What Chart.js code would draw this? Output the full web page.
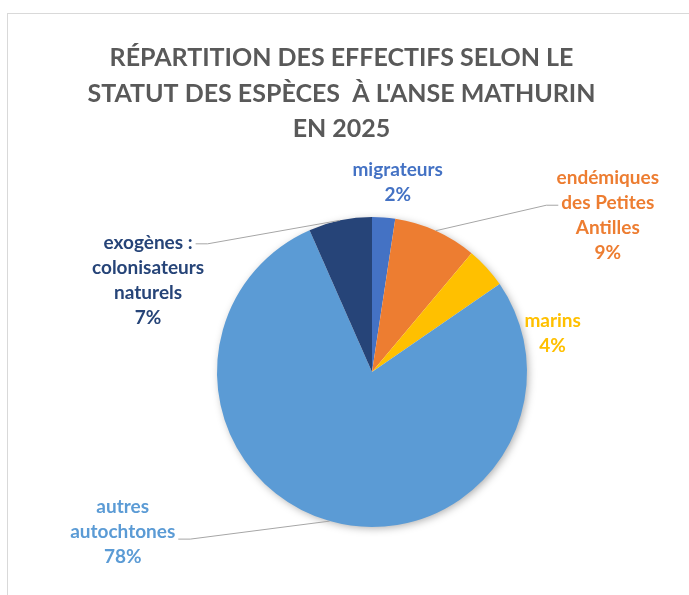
<!DOCTYPE html>
<html>
<head>
<meta charset="utf-8">
<script src="https://cdn.jsdelivr.net/npm/chart.js@4"></script>
<style>
  html, body { margin: 0; padding: 0; background: #fff; overflow: hidden; }
  #frame { position: absolute; left: 7px; top: 13px; width: 700px; height: 600px;
           border-top: 1px solid #d9d9d9; border-left: 1px solid #d9d9d9; }
  #wrap { position: absolute; left: 0; top: 0; width: 689px; height: 595px; }
</style>
</head>
<body>
<div id="frame"></div>
<div id="wrap"><canvas id="chart"></canvas></div>
<script>
// data (share of counts, %)
const categories = ['migrateurs', 'endémiques des Petites Antilles', 'marins', 'autres autochtones', 'exogènes : colonisateurs naturels'];
const labelLines = [['migrateurs'], ['endémiques', 'des Petites', 'Antilles'], ['marins'], ['autres', 'autochtones'], ['exogènes :', 'colonisateurs', 'naturels']];
const values = [2.4, 8.7, 4.3, 78.0, 6.6];
const colors = ['#4472C4', '#ED7D31', '#FFC000', '#5B9BD5', '#264478'];
const titleLines = ['RÉPARTITION DES EFFECTIFS SELON LE', "STATUT DES ESPÈCES  À L'ANSE MATHURIN", 'EN 2025'];

// label placement, relative to the middle of each slice's outer edge
const labelOffset = [[14, -35], [172, -15], [66, 66], [-207, 11], [-192, 60]];
const leaders = [null, { line: 1, side: 'left', dy: 2 }, null, { line: 1, side: 'right', dy: 7 }, { line: 0, side: 'right', dy: 1 }];
const labelFont = 'bold 19px Lato';
const lineH = 25;

const total = values.reduce((a, b) => a + b, 0);

// title drawn by hand so it can sit a bit left of the pie centre, like the original
const chartTitle = {
  id: 'chartTitle',
  afterDraw(chart) {
    const ctx = chart.ctx;
    ctx.save();
    ctx.font = 'bold 25px Lato';
    ctx.fillStyle = '#595959';
    ctx.textAlign = 'center';
    ctx.textBaseline = 'alphabetic';
    titleLines.forEach((t, k) => ctx.fillText(t, chart.width / 2 - 3, 66 + k * 35.5));
    ctx.restore();
  }
};

// soft shadow under the pie
const pieShadow = {
  id: 'pieShadow',
  beforeDatasetsDraw(chart) {
    const arc = chart.getDatasetMeta(0).data[0];
    if (!arc) return;
    const ctx = chart.ctx;
    ctx.save();
    ctx.shadowColor = 'rgba(0,0,0,0.35)';
    ctx.shadowBlur = 9;
    ctx.shadowOffsetX = 2;
    ctx.shadowOffsetY = 2;
    ctx.fillStyle = '#fff';
    ctx.beginPath();
    ctx.arc(arc.x, arc.y, arc.outerRadius - 1, 0, Math.PI * 2);
    ctx.fill();
    ctx.restore();
  }
};

// outside labels with leader lines
const outsideLabels = {
  id: 'outsideLabels',
  afterDatasetsDraw(chart) {
    const ctx = chart.ctx;
    const meta = chart.getDatasetMeta(0);
    ctx.save();
    ctx.font = labelFont;
    ctx.textAlign = 'center';
    ctx.textBaseline = 'middle';
    meta.data.forEach((arc, i) => {
      const mid = (arc.startAngle + arc.endAngle) / 2;
      const ox = arc.x + Math.cos(mid) * arc.outerRadius;
      const oy = arc.y + Math.sin(mid) * arc.outerRadius;
      const lines = labelLines[i].concat([Math.round(values[i] / total * 100) + '%']);
      const cx = ox + labelOffset[i][0];
      const cy = oy + labelOffset[i][1];
      const top = cy - (lines.length - 1) * lineH / 2;

      ctx.fillStyle = colors[i];
      lines.forEach((t, k) => ctx.fillText(t, cx, top + k * lineH));

      const ld = leaders[i];
      if (ld) {
        const w = ctx.measureText(lines[ld.line]).width;
        const ly = top + ld.line * lineH + ld.dy;
        const lx = ld.side === 'left' ? cx - w / 2 - 3 : cx + w / 2 + 3;
        const ex = ld.side === 'left' ? lx - 12 : lx + 12;
        ctx.strokeStyle = '#A6A6A6';
        ctx.lineWidth = 1;
        ctx.beginPath();
        ctx.moveTo(lx, ly);
        ctx.lineTo(ex, ly);
        ctx.lineTo(ox, oy);
        ctx.stroke();
      }
    });
    ctx.restore();
  }
};

const config = {
  type: 'pie',
  data: {
    labels: categories,
    datasets: [{
      data: values,
      backgroundColor: colors,
      borderWidth: 0
    }]
  },
  options: {
    responsive: true,
    maintainAspectRatio: false,
    animation: false,
    layout: {
      padding: { left: 75, right: 20, top: 217, bottom: 68 }
    },
    plugins: {
      legend: { display: false },
      tooltip: { enabled: false },
      title: { display: false }
    }
  },
  plugins: [pieShadow, outsideLabels, chartTitle]
};

new Chart(document.getElementById('chart'), config);
</script>
</body>
</html>
